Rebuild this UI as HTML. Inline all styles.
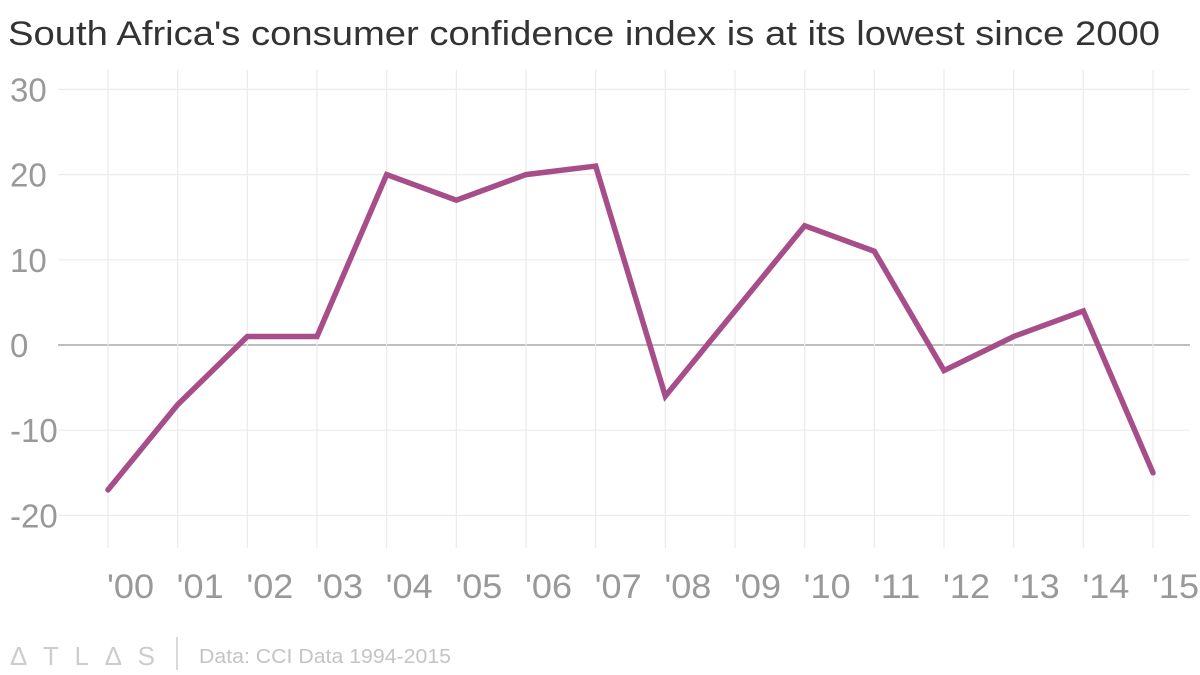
<!DOCTYPE html>
<html><head><meta charset="utf-8"><style>
body{margin:0;background:#fff;}
svg{display:block;font-family:"Liberation Sans",sans-serif;}
</style></head><body>
<svg id="c" width="1200" height="675">
<text x="8" y="45" font-size="34" fill="#333" textLength="1152" lengthAdjust="spacingAndGlyphs">South Africa's consumer confidence index is at its lowest since 2000</text>
<g id="grid"></g><g id="axes"></g><g id="series"></g>
<text x="10" y="665" font-size="26" fill="#ccc" textLength="145" lengthAdjust="spacing">ΔTLΔS</text>
<line x1="177" y1="637" x2="177" y2="670" stroke="#ccc" stroke-width="1.5"/>
<text x="199" y="663" font-size="20" fill="#c4c4c4" textLength="252" lengthAdjust="spacingAndGlyphs">Data: CCI Data 1994-2015</text>
</svg>
<script>
const years=["'00","'01","'02","'03","'04","'05","'06","'07","'08","'09","'10","'11","'12","'13","'14","'15"];
const values=[-17,-7,1,1,20,17,20,21,-6,4,14,11,-3,1,4,-15];
const yTicks=[30,20,10,0,-10,-20];
const NS="http://www.w3.org/2000/svg";
const x=i=>108+i*(1153-108)/(years.length-1);
const y=v=>345-v*8.52;
function mk(t,a,p){const e=document.createElementNS(NS,t);for(const k in a)e.setAttribute(k,a[k]);p.appendChild(e);return e;}
const grid=document.getElementById('grid'),axes=document.getElementById('axes'),ser=document.getElementById('series');
yTicks.forEach(v=>{
 const l=mk('line',{x1:58,x2:1190,y1:y(v),y2:y(v),stroke:v===0?'#999':'#ebebeb','stroke-width':1.2},grid);
 
 
 const t=mk('text',{x:10,y:y(v)+12,'font-size':33,fill:'#999'},axes);t.textContent=v;
 
 
});
years.forEach((yr,i)=>{
 const l=mk('line',{x1:x(i),x2:x(i),y1:70,y2:548,stroke:'#ebebeb','stroke-width':1.2},grid);
 
 
 const t=mk('text',{x:x(i)-1,y:598,'font-size':34,fill:'#999',textLength:47,lengthAdjust:'spacingAndGlyphs'},axes);t.textContent=yr;
 
 
});
const p=mk('polyline',{points:values.map((v,i)=>x(i)+','+y(v)).join(' '),fill:'none',stroke:'#a64d8a','stroke-width':5.5,'stroke-linejoin':'miter','stroke-linecap':'round'},ser);


</script>
</body></html>
